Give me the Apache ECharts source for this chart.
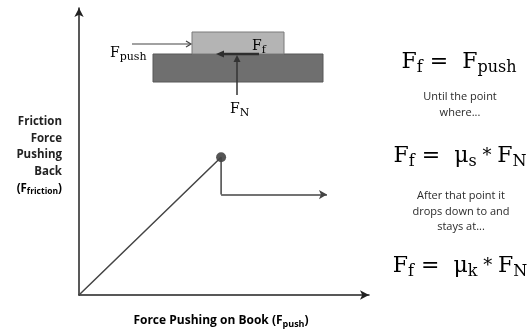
<!DOCTYPE html>
<html>
<head>
<meta charset="utf-8">
<script src="https://cdn.jsdelivr.net/npm/echarts@6/dist/echarts.min.js"></script>
<style>
  html, body { margin: 0; padding: 0; background: #fff; }
  #chart { width: 532px; height: 329px; }
</style>
</head>
<body>
<div id="chart"></div>
<script>
// Friction force versus applied push: static rise, peak, then kinetic plateau
const staticRiseX = [0, 4.9];
const staticRiseY = [0, 4.8];
const peakPoint = [4.9, 4.8];
const kineticLevel = 3.5;
const kineticEndX = 8.55;
const axisMaxX = 10;
const axisMaxY = 10;

const yLabelLines = ['Friction', 'Force', 'Pushing', 'Back'];
const noteStatic = ['Until the point', 'where...'];
const noteKinetic = ['After that point it', 'drops down to and', 'stays at...'];

const serif = '"DejaVu Serif", "Liberation Serif", serif';
const sans = '"Open Sans", "Liberation Sans", sans-serif';

const chart = echarts.init(document.getElementById('chart'), null, { renderer: 'canvas' });

const pathData = [
  [staticRiseX[0], staticRiseY[0]],
  [staticRiseX[1], staticRiseY[1]],
  [peakPoint[0], kineticLevel]
];

function formulaRich(size, subRatio) {
  const r = subRatio || 0.72;
  return {
    m: { fontFamily: serif, fontSize: size, lineHeight: size + 6, color: '#444' },
    s: { fontFamily: serif, fontSize: Math.round(size * r), lineHeight: Math.round(size * 0.45), verticalAlign: 'bottom', color: '#444' },
    a: { fontFamily: serif, fontSize: Math.round(size * 0.8), lineHeight: size + 6, color: '#444' }
  };
}

const graphics = [];

// Book on table diagram
graphics.push({
  type: 'rect', shape: { x: 153, y: 54, width: 170, height: 28 },
  style: { fill: '#6f6f6f', stroke: '#585858', lineWidth: 1 }
});
graphics.push({
  type: 'rect', shape: { x: 192, y: 32, width: 92, height: 22 },
  style: { fill: '#b4b4b4', stroke: '#7a7a7a', lineWidth: 1 }
});
// push arrow
graphics.push({ type: 'line', shape: { x1: 132, y1: 44, x2: 190, y2: 44 }, style: { stroke: '#444', lineWidth: 1.2 } });
graphics.push({ type: 'polyline', shape: { points: [[186, 41], [191, 44], [186, 47]] }, style: { stroke: '#444', lineWidth: 1.2, fill: null } });
// friction arrow
graphics.push({ type: 'line', shape: { x1: 259, y1: 54, x2: 222, y2: 54 }, style: { stroke: '#2e2e2e', lineWidth: 2.4 } });
graphics.push({ type: 'polygon', shape: { points: [[216, 54], [224, 50.5], [224, 57.5]] }, style: { fill: '#2e2e2e' } });
// normal force arrow
graphics.push({ type: 'line', shape: { x1: 237, y1: 95, x2: 237, y2: 60 }, style: { stroke: '#333', lineWidth: 1.5 } });
graphics.push({ type: 'polygon', shape: { points: [[237, 55], [233.5, 62], [240.5, 62]] }, style: { fill: '#333' } });

// diagram labels
graphics.push({
  type: 'text', x: 110, y: 53,
  style: { text: '{m|F}{s|push}', rich: formulaRich(14, 0.78), verticalAlign: 'middle', align: 'left' }
});
graphics.push({
  type: 'text', x: 252, y: 46,
  style: { text: '{m|F}{s|f}', rich: formulaRich(14, 0.78), verticalAlign: 'middle', align: 'left' }
});
graphics.push({
  type: 'text', x: 230, y: 109,
  style: { text: '{m|F}{s|N}', rich: formulaRich(14, 0.78), verticalAlign: 'middle', align: 'left' }
});

// y axis title
yLabelLines.forEach((t, i) => {
  graphics.push({
    type: 'text', x: 62, y: 122 + i * 16.6,
    style: { text: t, fontFamily: sans, fontWeight: 'bold', fontSize: 11.5, fill: '#222', align: 'right', verticalAlign: 'middle' }
  });
});
graphics.push({
  type: 'text', x: 62, y: 122 + 4 * 16.6,
  style: {
    text: '{b|(F}{s|friction}{b|)}', align: 'right', verticalAlign: 'middle',
    rich: {
      b: { fontFamily: sans, fontWeight: 'bold', fontSize: 11.5, lineHeight: 15, color: '#222' },
      s: { fontFamily: sans, fontWeight: 'bold', fontSize: 8.5, lineHeight: 10, verticalAlign: 'bottom', color: '#222' }
    }
  }
});

// x axis title
graphics.push({
  type: 'text', x: 221, y: 321,
  style: {
    text: '{b|Force Pushing on Book (F}{s|push}{b|)}', align: 'center', verticalAlign: 'middle',
    rich: {
      b: { fontFamily: sans, fontWeight: 'bold', fontSize: 12, lineHeight: 15, color: '#222' },
      s: { fontFamily: sans, fontWeight: 'bold', fontSize: 9, lineHeight: 10, verticalAlign: 'bottom', color: '#222' }
    }
  }
});

// formulas and notes
graphics.push({
  type: 'text', x: 459, y: 62,
  style: { text: '{m|F}{s|f}{m| =  F}{s|push}', rich: formulaRich(22), align: 'center', verticalAlign: 'middle' }
});
noteStatic.forEach((t, i) => {
  graphics.push({
    type: 'text', x: 460, y: 97 + i * 15.5,
    style: { text: t, fontFamily: sans, fontSize: 11, fill: '#2a2a2a', align: 'center', verticalAlign: 'middle' }
  });
});
graphics.push({
  type: 'text', x: 460, y: 156,
  style: { text: '{m|F}{s|f}{m| =  μ}{s|s}{a| * }{m|F}{s|N}', rich: formulaRich(22), align: 'center', verticalAlign: 'middle' }
});
noteKinetic.forEach((t, i) => {
  graphics.push({
    type: 'text', x: 461, y: 196 + i * 15.5,
    style: { text: t, fontFamily: sans, fontSize: 11, fill: '#2a2a2a', align: 'center', verticalAlign: 'middle' }
  });
});
graphics.push({
  type: 'text', x: 460, y: 266,
  style: { text: '{m|F}{s|f}{m| =  μ}{s|k}{a| * }{m|F}{s|N}', rich: formulaRich(22), align: 'center', verticalAlign: 'middle' }
});

chart.setOption({
  animation: false,
  backgroundColor: '#fff',
  grid: { left: 79, right: 163, top: 8, bottom: 34 },
  xAxis: {
    type: 'value', min: 0, max: axisMaxX,
    axisLine: { show: true, symbol: ['none', 'arrow'], symbolSize: [7, 9], lineStyle: { color: '#222', width: 1.5 } },
    axisTick: { show: false }, axisLabel: { show: false }, splitLine: { show: false }
  },
  yAxis: {
    type: 'value', min: 0, max: axisMaxY,
    axisLine: { show: true, symbol: ['none', 'arrow'], symbolSize: [7, 9], lineStyle: { color: '#222', width: 1.5 } },
    axisTick: { show: false }, axisLabel: { show: false }, splitLine: { show: false }
  },
  series: [
    {
      type: 'line',
      data: pathData,
      showSymbol: false,
      lineStyle: { color: '#444', width: 1.5 },
      markLine: {
        silent: true,
        symbol: ['none', 'arrow'],
        symbolSize: [7, 8],
        label: { show: false },
        lineStyle: { color: '#444', width: 1.5, type: 'solid' },
        data: [[{ coord: [peakPoint[0], kineticLevel] }, { coord: [kineticEndX, kineticLevel] }]]
      }
    },
    {
      type: 'scatter',
      data: [peakPoint],
      symbolSize: 10,
      itemStyle: { color: '#2b2b2b' }
    }
  ],
  graphic: graphics
});
</script>
</body>
</html>
